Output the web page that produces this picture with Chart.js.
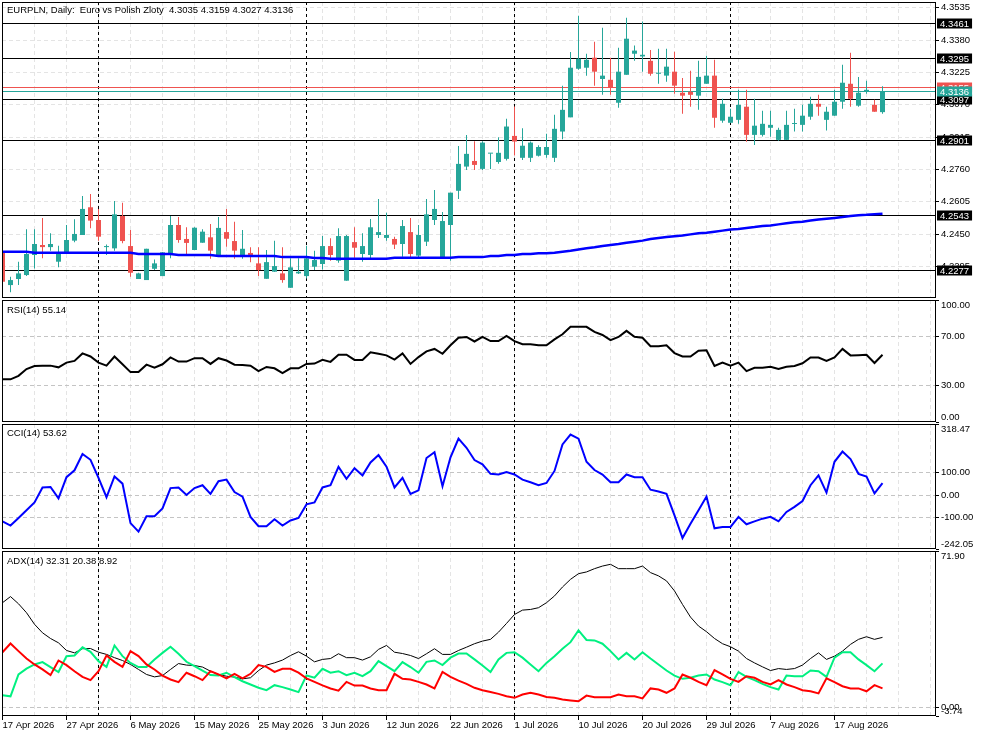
<!DOCTYPE html>
<html>
<head>
<meta charset="utf-8">
<title>EURPLN Daily</title>
<script src="https://cdn.jsdelivr.net/npm/chart.js@4.4.0/dist/chart.umd.min.js"></script>
<style>
  body { margin: 0; background: #fff; }
  #wrap { position: relative; width: 983px; height: 737px; overflow: hidden; }
  #wrap canvas { position: absolute; left: 0; }
</style>
</head>
<body>
<div id="wrap">
  <canvas id="main" width="983" height="300" style="top:0"></canvas>
  <canvas id="rsi" width="983" height="124" style="top:299px"></canvas>
  <canvas id="cci" width="983" height="127" style="top:423px"></canvas>
  <canvas id="adx" width="983" height="187" style="top:550px"></canvas>
</div>
<script>
/* data */
const dateLabels = ['17 Apr 2026', '27 Apr 2026', '6 May 2026', '15 May 2026', '25 May 2026', '3 Jun 2026',
  '12 Jun 2026', '22 Jun 2026', '1 Jul 2026', '10 Jul 2026', '20 Jul 2026', '29 Jul 2026', '7 Aug 2026', '17 Aug 2026'];
const monthStarts = [12, 38, 64, 91];

const opens = [
  4.2363, 4.2206, 4.2235, 4.2254, 4.2350, 4.2398, 4.2388, 4.2318, 4.2363, 4.2419,
  4.2446, 4.2579, 4.2518, 4.2388, 4.2382, 4.2537, 4.2393, 4.2235, 4.2230, 4.2284,
  4.2249, 4.2355, 4.2494, 4.2427, 4.2374, 4.2409, 4.2435, 4.2350, 4.2460, 4.2417,
  4.2342, 4.2360, 4.2310, 4.2236, 4.2270, 4.2262, 4.2193, 4.2262, 4.2249, 4.2294,
  4.2307, 4.2393, 4.2323, 4.2227, 4.2412, 4.2355, 4.2350, 4.2446, 4.2432, 4.2427,
  4.2403, 4.2460, 4.2347, 4.2414, 4.2518, 4.2334, 4.2494, 4.2658, 4.2774, 4.2801,
  4.2763, 4.2836, 4.2796, 4.2811, 4.2921, 4.2816, 4.2816, 4.2826, 4.2830, 4.2816,
  4.2942, 4.3010, 4.3243, 4.3248, 4.3296, 4.3194, 4.3190, 4.3080, 4.3214, 4.3315,
  4.3302, 4.3281, 4.3219, 4.3210, 4.3229, 4.3128, 4.3133, 4.3114, 4.3171, 4.3210,
  4.2994, 4.2984, 4.2998, 4.3061, 4.2926, 4.2926, 4.2960, 4.2902, 4.2902, 4.2978,
  4.2974, 4.3013, 4.3075, 4.2998, 4.3018, 4.3085, 4.3171, 4.3066, 4.3133, 4.3070,
  4.3035
];
const highs = [
  4.2374, 4.2246, 4.2318, 4.2473, 4.2473, 4.2528, 4.2454, 4.2395, 4.2494, 4.2521,
  4.2633, 4.2643, 4.2571, 4.2401, 4.2609, 4.2601, 4.2470, 4.2265, 4.2380, 4.2329,
  4.2365, 4.2537, 4.2532, 4.2483, 4.2483, 4.2473, 4.2499, 4.2532, 4.2571, 4.2510,
  4.2470, 4.2387, 4.2387, 4.2374, 4.2419, 4.2387, 4.2334, 4.2334, 4.2395, 4.2371,
  4.2441, 4.2430, 4.2478, 4.2446, 4.2483, 4.2454, 4.2523, 4.2619, 4.2553, 4.2438,
  4.2518, 4.2528, 4.2494, 4.2619, 4.2662, 4.2556, 4.2649, 4.2873, 4.2926, 4.2896,
  4.2896, 4.2838, 4.2915, 4.3003, 4.3062, 4.2958, 4.2894, 4.2876, 4.2931, 4.3022,
  4.3162, 4.3323, 4.3497, 4.3315, 4.3372, 4.3440, 4.3296, 4.3344, 4.3488, 4.3354,
  4.3469, 4.3333, 4.3339, 4.3339, 4.3325, 4.3199, 4.3234, 4.3281, 4.3305, 4.3286,
  4.3099, 4.3051, 4.3142, 4.3142, 4.3099, 4.3042, 4.3042, 4.2960, 4.3042, 4.3051,
  4.3070, 4.3109, 4.3118, 4.3061, 4.3142, 4.3262, 4.3320, 4.3204, 4.3185, 4.3094,
  4.3159
];
const lows = [
  4.2217, 4.2172, 4.2206, 4.2249, 4.2286, 4.2334, 4.2371, 4.2291, 4.2358, 4.2411,
  4.2446, 4.2478, 4.2419, 4.2350, 4.2371, 4.2406, 4.2246, 4.2235, 4.2230, 4.2278,
  4.2249, 4.2334, 4.2409, 4.2355, 4.2374, 4.2409, 4.2332, 4.2350, 4.2390, 4.2332,
  4.2332, 4.2315, 4.2249, 4.2236, 4.2270, 4.2217, 4.2193, 4.2259, 4.2238, 4.2278,
  4.2281, 4.2323, 4.2313, 4.2227, 4.2337, 4.2318, 4.2334, 4.2432, 4.2419, 4.2379,
  4.2342, 4.2339, 4.2331, 4.2393, 4.2494, 4.2334, 4.2323, 4.2619, 4.2758, 4.2758,
  4.2758, 4.2763, 4.2787, 4.2803, 4.2827, 4.2806, 4.2796, 4.2822, 4.2816, 4.2796,
  4.2905, 4.3010, 4.3238, 4.3210, 4.3162, 4.3118, 4.3118, 4.3056, 4.3214, 4.3281,
  4.3229, 4.3210, 4.3171, 4.3181, 4.3123, 4.3027, 4.3061, 4.3046, 4.3171, 4.2960,
  4.2984, 4.2984, 4.2979, 4.2893, 4.2878, 4.2918, 4.2917, 4.2898, 4.2902, 4.2942,
  4.2942, 4.2998, 4.3018, 4.2947, 4.3018, 4.3051, 4.3061, 4.3061, 4.3123, 4.3037,
  4.3027
];
const closes = [
  4.2222, 4.2230, 4.2262, 4.2355, 4.2403, 4.2388, 4.2403, 4.2363, 4.2422, 4.2451,
  4.2571, 4.2515, 4.2438, 4.2393, 4.2545, 4.2417, 4.2265, 4.2262, 4.2380, 4.2310,
  4.2363, 4.2494, 4.2422, 4.2408, 4.2481, 4.2462, 4.2371, 4.2480, 4.2428, 4.2371,
  4.2380, 4.2342, 4.2278, 4.2316, 4.2297, 4.2230, 4.2291, 4.2270, 4.2334, 4.2326,
  4.2393, 4.2350, 4.2441, 4.2441, 4.2385, 4.2393, 4.2483, 4.2460, 4.2446, 4.2400,
  4.2489, 4.2355, 4.2446, 4.2545, 4.2571, 4.2513, 4.2649, 4.2787, 4.2835, 4.2782,
  4.2889, 4.2838, 4.2840, 4.2966, 4.2894, 4.2874, 4.2889, 4.2868, 4.2868, 4.2955,
  4.3046, 4.3248, 4.3291, 4.3286, 4.3229, 4.3210, 4.3152, 4.3229, 4.3387, 4.3330,
  4.3310, 4.3219, 4.3224, 4.3253, 4.3162, 4.3114, 4.3118, 4.3204, 4.3210, 4.3008,
  4.3075, 4.3013, 4.3070, 4.2926, 4.2970, 4.2979, 4.2974, 4.2950, 4.2974, 4.2979,
  4.3018, 4.3075, 4.3061, 4.3037, 4.3085, 4.3176, 4.3099, 4.3128, 4.3142, 4.3037,
  4.3136
];
const maValues = [
  4.2366, 4.2366, 4.2366, 4.2366, 4.2361, 4.2361, 4.2361, 4.2361, 4.2361, 4.2361,
  4.2361, 4.2361, 4.2361, 4.2361, 4.2361, 4.2361, 4.2361, 4.2355, 4.2355, 4.2355,
  4.2355, 4.2355, 4.2350, 4.2350, 4.2350, 4.2350, 4.2350, 4.2345, 4.2345, 4.2345,
  4.2345, 4.2345, 4.2345, 4.2345, 4.2345, 4.2340, 4.2340, 4.2340, 4.2340, 4.2336,
  4.2336, 4.2332, 4.2332, 4.2332, 4.2332, 4.2332, 4.2332, 4.2332, 4.2332, 4.2337,
  4.2337, 4.2337, 4.2337, 4.2337, 4.2337, 4.2337, 4.2337, 4.2340, 4.2340, 4.2340,
  4.2340, 4.2345, 4.2345, 4.2350, 4.2350, 4.2355, 4.2355, 4.2358, 4.2358, 4.2361,
  4.2366, 4.2371, 4.2377, 4.2382, 4.2387, 4.2393, 4.2398, 4.2403, 4.2409, 4.2414,
  4.2419, 4.2427, 4.2432, 4.2436, 4.2440, 4.2444, 4.2449, 4.2454, 4.2457, 4.2462,
  4.2467, 4.2472, 4.2475, 4.2480, 4.2484, 4.2489, 4.2492, 4.2497, 4.2502, 4.2507,
  4.2510, 4.2515, 4.2520, 4.2524, 4.2528, 4.2532, 4.2537, 4.2541, 4.2543, 4.2546,
  4.2548
];
const rsiValues = [
  35.0, 35.0, 37.8, 43.4, 45.9, 46.2, 46.2, 44.8, 48.7, 50.1,
  56.2, 53.7, 48.7, 46.2, 53.7, 47.3, 40.9, 40.9, 47.0, 44.5,
  47.3, 52.9, 49.5, 49.5, 52.3, 52.3, 47.6, 52.3, 50.4, 47.0,
  46.7, 46.2, 41.7, 45.1, 44.0, 40.0, 44.0, 44.0, 47.6, 47.9,
  51.0, 49.3, 55.1, 55.1, 50.9, 50.9, 57.1, 55.9, 54.6, 51.2,
  56.2, 47.6, 53.2, 57.9, 59.9, 55.9, 62.9, 69.1, 69.7, 66.0,
  69.7, 66.3, 66.3, 70.5, 66.3, 63.8, 63.8, 62.9, 62.9, 67.7,
  71.9, 78.0, 78.0, 78.0, 73.9, 71.3, 67.1, 69.7, 74.7, 69.9,
  69.1, 62.1, 62.1, 62.9, 56.5, 53.7, 53.7, 58.5, 58.8, 45.9,
  48.7, 46.2, 48.7, 41.7, 44.5, 44.5, 45.3, 43.4, 45.3, 45.9,
  48.1, 52.9, 52.9, 50.1, 52.9, 59.9, 54.6, 54.8, 55.1, 48.4,
  55.14
];
const cciValues = [
  -118, -137, -103, -68, -33, 34, 36, -15, 80, 111,
  184, 158, 77, -10, 83, 51, -126, -164, -95, -95,
  -60, 31, 34, 0, 31, 44, 5, 62, 69, 13,
  -7, -98, -140, -140, -109, -137, -114, -103, -42, -33,
  34, 44, 126, 73, 120, 88, 146, 179, 127, 34,
  77, 5, 21, 166, 192, 39, 169, 253, 212, 157,
  138, 95, 92, 103, 92, 69, 57, 44, 54, 108,
  227, 271, 253, 149, 112, 92, 57, 57, 92, 80,
  80, 24, 16, 5, -91, -193, -129, -68, -7, -149,
  -143, -143, -98, -131, -118, -106, -98, -118, -76, -53,
  -27, 44, 88, 11, 149, 195, 161, 95, 83, 7,
  53.62
];
const adxValues = [
  48.2, 51.0, 47.7, 43.6, 38.3, 34.4, 31.8, 29.8, 26.3, 25.2,
  27.1, 27.2, 25.5, 24.5, 23.0, 21.7, 19.9, 17.6, 15.3, 14.2,
  14.8, 17.6, 20.3, 19.6, 19.4, 18.7, 16.8, 15.3, 14.5, 14.1,
  13.3, 13.8, 17.1, 19.6, 20.6, 21.9, 24.0, 25.7, 23.7, 21.1,
  22.2, 22.6, 24.8, 23.0, 23.0, 21.9, 23.4, 26.8, 28.6, 25.5,
  24.9, 24.0, 22.6, 24.8, 27.1, 24.5, 24.5, 26.3, 27.8, 29.4,
  30.6, 31.4, 34.7, 38.7, 42.8, 44.8, 45.1, 45.9, 48.2, 51.3,
  55.4, 58.9, 61.5, 62.3, 63.8, 65.0, 65.8, 63.8, 63.8, 63.8,
  65.0, 62.0, 60.5, 58.2, 53.6, 47.4, 41.6, 37.5, 34.9, 31.8,
  29.4, 28.0, 26.0, 22.6, 20.6, 18.8, 17.1, 18.0, 17.6, 18.0,
  19.6, 22.6, 25.2, 22.2, 23.7, 26.0, 29.1, 31.4, 32.6, 31.4,
  32.31
];
const plusDi = [
  5.8, 5.3, 15.3, 18.0, 19.9, 21.0, 18.7, 16.4, 23.7, 24.0,
  27.8, 25.7, 21.4, 18.8, 28.6, 23.7, 20.6, 18.7, 18.7, 22.2,
  25.2, 28.0, 24.8, 21.1, 19.1, 17.1, 15.0, 14.8, 16.1, 14.1,
  12.2, 10.7, 9.2, 8.1, 10.4, 9.5, 8.4, 7.2, 14.8, 13.8,
  17.9, 16.1, 16.8, 15.0, 16.1, 14.5, 16.8, 21.4, 19.1, 16.8,
  21.0, 18.7, 16.1, 21.1, 21.7, 19.6, 23.0, 24.9, 24.9, 22.2,
  19.4, 16.4, 22.2, 25.2, 25.5, 23.0, 19.9, 16.8, 20.6, 23.7,
  27.1, 30.1, 35.5, 31.1, 30.9, 29.4, 26.0, 22.2, 25.2, 22.2,
  25.5, 22.6, 19.9, 17.1, 14.8, 13.3, 13.8, 14.8, 15.3, 13.0,
  11.8, 10.4, 16.4, 14.2, 12.7, 11.0, 9.5, 8.4, 14.8, 14.5,
  14.5, 17.1, 16.8, 14.2, 23.0, 25.5, 25.5, 22.2, 19.6, 16.8,
  20.38
];
const minusDi = [
  25.5, 29.5, 26.0, 22.6, 19.9, 17.6, 15.0, 21.7, 19.6, 16.8,
  14.2, 12.7, 16.8, 24.0, 21.1, 18.8, 26.0, 23.7, 19.9, 17.6,
  14.8, 13.0, 11.8, 16.1, 14.5, 12.7, 16.8, 15.3, 13.5, 15.6,
  13.5, 15.6, 19.6, 18.8, 16.5, 17.9, 17.9, 16.1, 13.5, 11.9,
  10.3, 8.9, 7.9, 11.9, 10.2, 10.2, 8.9, 8.1, 8.1, 15.6,
  13.3, 13.0, 11.9, 10.7, 8.9, 16.5, 14.2, 12.5, 11.0, 9.2,
  8.1, 7.3, 6.4, 5.3, 4.6, 6.1, 6.9, 6.1, 5.0, 4.6,
  3.8, 3.4, 3.0, 5.6, 4.9, 4.9, 4.9, 6.1, 5.3, 5.3,
  4.3, 8.9, 8.4, 6.9, 8.9, 15.3, 13.8, 11.9, 10.4, 17.3,
  15.3, 13.3, 11.9, 14.5, 13.8, 11.9, 10.7, 12.7, 10.7, 9.5,
  8.1, 7.6, 6.6, 13.5, 11.8, 9.9, 8.9, 8.9, 7.6, 10.4,
  8.92
];
const priceTicks = [4.3535, 4.3380, 4.3225, 4.3070, 4.2915, 4.2760, 4.2605, 4.2450, 4.2295];
const levels = [4.3461, 4.3295, 4.3097, 4.2901, 4.2543, 4.2277];
const askPrice = 4.3155;

/* look */
const FONT = "'Liberation Sans', Arial, sans-serif";
const tickFont = { family: FONT, size: 9.5 };
const GREEN = '#26a69a';
const RED = '#ef5350';
const X_MIN = -0.0625;
const X_MAX = 116.6875;

const last = opens.length - 1;
const bars = opens.map(function (o, i) { return i; });
function pts(arr) {
  return arr.map(function (v, i) { return { x: i, y: v }; });
}
function candleColor(c) {
  return closes[c.dataIndex] >= opens[c.dataIndex] ? GREEN : RED;
}

// frame, title, month separators, level lines and their boxes
function makeDecor(cfg) {
  return {
    id: 'paneDecor',
    beforeDatasetsDraw: function (chart) {
      const ctx = chart.ctx, a = chart.chartArea;
      const x = chart.scales.x, y = chart.scales.y;
      ctx.save();
      ctx.beginPath();
      ctx.rect(a.left, a.top, a.right - a.left, a.bottom - a.top);
      ctx.clip();
      ctx.lineWidth = 1;
      ctx.strokeStyle = '#000';
      ctx.setLineDash([3, 3]);
      monthStarts.forEach(function (i) {
        const px = Math.floor(x.getPixelForValue(i)) + 0.5;
        ctx.beginPath();
        ctx.moveTo(px, a.top);
        ctx.lineTo(px, a.bottom);
        ctx.stroke();
      });
      ctx.setLineDash([]);
      (cfg.lines || []).forEach(function (l) {
        const py = Math.round(y.getPixelForValue(l.value)) + 0.5;
        ctx.strokeStyle = l.color;
        ctx.beginPath();
        ctx.moveTo(a.left, py);
        ctx.lineTo(a.right, py);
        ctx.stroke();
      });
      ctx.restore();
    },
    afterDraw: function (chart) {
      const ctx = chart.ctx, a = chart.chartArea, y = chart.scales.y;
      ctx.save();
      ctx.strokeStyle = '#000';
      ctx.lineWidth = 1;
      ctx.strokeRect(a.left + 0.5, a.top + 0.5, a.right - a.left - 1, a.bottom - a.top - 1);
      ctx.font = '9.5px ' + FONT;
      ctx.textBaseline = 'middle';
      ctx.fillStyle = '#000';
      ctx.fillText(cfg.title, a.left + 5, a.top + cfg.titleY);
      if (cfg.edges) {
        ctx.fillText(cfg.edges[0], a.right + 5, a.top + 5);
        ctx.fillText(cfg.edges[1], a.right + 5, a.bottom - 5);
      }
      (cfg.lines || []).forEach(function (l) {
        const py = Math.round(y.getPixelForValue(l.value)) + 0.5;
        const txt = l.value.toFixed(4);
        const w = ctx.measureText(txt).width + 6;
        ctx.fillStyle = l.box;
        ctx.fillRect(a.right + 1, py - 5, w, 10);
        ctx.fillStyle = '#fff';
        ctx.fillText(txt, a.right + 4, py + 0.5);
      });
      ctx.restore();
    }
  };
}

function xAxis(showDates) {
  return {
    type: 'linear',
    min: X_MIN,
    max: X_MAX,
    offset: false,
    afterBuildTicks: function (s) {
      s.ticks = [];
      for (let v = 0; v <= X_MAX; v += 4) s.ticks.push({ value: v });
    },
    afterFit: function (s) {
      s.height = showDates ? 21 : 0;
      s.paddingLeft = 0;
      s.paddingRight = 0;
    },
    border: { display: false, dash: [4, 3] },
    grid: {
      offset: false,
      color: '#e4e4e4',
      drawTicks: showDates,
      tickLength: 4,
      tickColor: function (c) {
        return c.tick && c.tick.value % 8 === 0 && c.tick.value / 8 < dateLabels.length ? '#000' : 'rgba(0,0,0,0)';
      }
    },
    ticks: {
      display: showDates,
      autoSkip: false,
      maxRotation: 0,
      align: 'start',
      padding: 0,
      font: tickFont,
      color: '#000',
      callback: function (v) { return v % 8 === 0 ? (dateLabels[v / 8] || '') : ''; }
    }
  };
}

function yAxis(min, max, tickValues, fmt, gridColor) {
  return {
    position: 'right',
    min: min,
    max: max,
    afterBuildTicks: function (s) {
      s.ticks = tickValues.map(function (v) { return { value: v }; });
    },
    afterFit: function (s) {
      s.width = 47;
      s.paddingTop = 0;
      s.paddingBottom = 0;
    },
    border: { display: false, dash: [4, 3] },
    grid: {
      color: function (c) {
        if (!c.tick || c.tick.value === min || c.tick.value === max) return 'rgba(0,0,0,0)';
        return gridColor;
      },
      tickLength: 3,
      tickColor: '#000'
    },
    ticks: { autoSkip: false, padding: 2, font: tickFont, color: '#000', callback: fmt }
  };
}

function subFmt(min, max) {
  return function (v) { return v === min || v === max ? '' : v.toFixed(2); };
}

function baseOptions(x, y, padding) {
  return {
    responsive: false,
    animation: false,
    layout: { padding: padding },
    plugins: { legend: { display: false }, tooltip: { enabled: false } },
    scales: { x: x, y: y }
  };
}

/* price pane */
new Chart(document.getElementById('main'), {
  type: 'bar',
  data: {
    datasets: [
      {
        type: 'line',
        data: pts(maValues),
        borderColor: '#0000ff',
        borderWidth: 2.5,
        pointRadius: 0,
        tension: 0,
        order: 0
      },
      {
        data: bars.map(function (i) { return { x: i, y: [opens[i], closes[i]] }; }),
        backgroundColor: candleColor,
        barThickness: 5,
        maxBarThickness: 5,
        grouped: false,
        minBarLength: 1,
        inflateAmount: 0,
        borderWidth: 0,
        order: 1
      },
      {
        data: bars.map(function (i) { return { x: i, y: [lows[i], highs[i]] }; }),
        backgroundColor: candleColor,
        barThickness: 1,
        maxBarThickness: 1,
        grouped: false,
        inflateAmount: 0,
        borderWidth: 0,
        order: 2
      }
    ]
  },
  options: baseOptions(
    xAxis(false),
    yAxis(4.2144, 4.3563, priceTicks, function (v) { return v.toFixed(4); }, '#e4e4e4'),
    { left: 2, right: 0, top: 2, bottom: 2 }
  ),
  plugins: [makeDecor({
    title: 'EURPLN, Daily:  Euro vs Polish Zloty  ' + opens[last].toFixed(4) + ' ' + highs[last].toFixed(4) +
      ' ' + lows[last].toFixed(4) + ' ' + closes[last].toFixed(4),
    titleY: 8,
    lines: levels.map(function (v) { return { value: v, color: '#000', box: '#000' }; }).concat([
      { value: askPrice, color: RED, box: RED },
      { value: closes[last], color: GREEN, box: GREEN }
    ])
  })]
});

/* RSI */
new Chart(document.getElementById('rsi'), {
  type: 'line',
  data: { datasets: [{ data: pts(rsiValues), borderColor: '#000', borderWidth: 2, pointRadius: 0 }] },
  options: baseOptions(xAxis(false), yAxis(0, 100, [0, 30, 70, 100], subFmt(0, 100), '#c4c4c4'),
    { left: 2, right: 0, top: 1, bottom: 1 }),
  plugins: [makeDecor({ title: 'RSI(14) ' + rsiValues[last].toFixed(2), titleY: 10, edges: ['100.00', '0.00'] })]
});

/* CCI */
const cciMin = -242.05, cciMax = 318.47;
new Chart(document.getElementById('cci'), {
  type: 'line',
  data: { datasets: [{ data: pts(cciValues), borderColor: '#0000ff', borderWidth: 2, pointRadius: 0 }] },
  options: baseOptions(xAxis(false), yAxis(cciMin, cciMax, [cciMin, -100, 0, 100, cciMax], subFmt(cciMin, cciMax), '#c4c4c4'),
    { left: 2, right: 0, top: 1, bottom: 1 }),
  plugins: [makeDecor({ title: 'CCI(14) ' + cciValues[last].toFixed(2), titleY: 9, edges: [cciMax.toFixed(2), cciMin.toFixed(2)] })]
});

/* ADX */
const adxMin = -3.74, adxMax = 71.90;
new Chart(document.getElementById('adx'), {
  type: 'line',
  data: {
    datasets: [
      { data: pts(adxValues), borderColor: '#000', borderWidth: 1, pointRadius: 0, order: 3 },
      { data: pts(plusDi), borderColor: '#00f080', borderWidth: 2, pointRadius: 0, order: 2 },
      { data: pts(minusDi), borderColor: '#ff0000', borderWidth: 2, pointRadius: 0, order: 1 }
    ]
  },
  options: baseOptions(xAxis(true), yAxis(adxMin, adxMax, [adxMin, 0, adxMax], subFmt(adxMin, adxMax), '#c4c4c4'),
    { left: 2, right: 0, top: 1, bottom: 0 }),
  plugins: [makeDecor({
    title: 'ADX(14) ' + adxValues[last].toFixed(2) + ' ' + plusDi[last].toFixed(2) + ' ' + minusDi[last].toFixed(2),
    titleY: 10,
    edges: [adxMax.toFixed(2), adxMin.toFixed(2)]
  })]
});
</script>
</body>
</html>
